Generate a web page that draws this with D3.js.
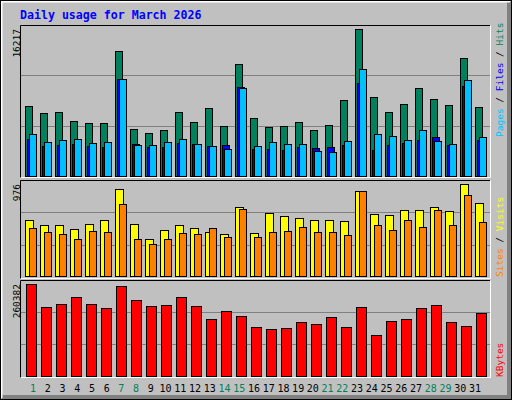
<!DOCTYPE html>
<html><head><meta charset="utf-8">
<script src="https://cdn.jsdelivr.net/npm/d3@7"></script>
<style>body{margin:0;background:#fff}svg{display:block}</style>
</head><body>
<script>
// Data
const days = d3.range(1, 32)
const weekend = [1, 7, 8, 14, 15, 21, 22, 28, 29]
const hits = [7688,6916,7026,6033,5813,5813,13755,5151,4710,5041,7026,5923,7467,5482,12320,6364,5372,5482,5923,5041,5592,8350,16217,8680,7026,7909,9673,8460,7798,12982,7578]
const files = [4048,3276,3386,3497,3276,3166,10666,3497,3166,3166,3607,3497,3276,3386,9784,2945,2945,2835,3166,3055,3166,3386,10225,2835,3386,3607,3938,4269,3386,9894,3938]
const pages = [4600,3717,3938,4048,3607,3717,10666,3386,3386,3717,4048,3497,3276,2945,9673,3276,3717,3497,3497,2724,2614,3827,11769,4600,4379,3938,5041,3827,3497,10556,4269]
const visits = [592,538,538,496,549,592,923,549,389,485,538,506,464,442,731,453,666,634,613,592,592,581,901,656,645,698,698,731,688,976,773]
const sites = [506,464,442,389,474,464,763,389,335,389,453,442,506,410,709,410,464,474,517,464,464,431,901,538,485,592,517,698,538,859,570]
const kbytes = [260382,194872,203419,223362,203419,192023,254701,214815,197721,200570,223362,197721,160684,183476,169231,137892,132194,135043,152137,146439,166382,137892,194872,115100,154986,160684,192023,200570,152137,140741,177778]

const W = 512, H = 400
const mono = "'DejaVu Sans Mono', monospace"
const svg = d3.select("body").append("svg").attr("width", W).attr("height", H)

// Frame
svg.append("rect").attr("width", W).attr("height", H).attr("fill", "#c0c0c0")
svg.append("rect").attr("x", 507).attr("y", 2).attr("width", 5).attr("height", H).attr("fill", "#808080")
svg.append("rect").attr("x", 2).attr("y", 395).attr("width", W).attr("height", 5).attr("fill", "#808080")
svg.append("path").attr("d", "M1.5,398V1.5H510").attr("fill", "none").attr("stroke", "#fff").attr("stroke-width", 2)
svg.append("rect").attr("x", 0.5).attr("y", 0.5).attr("width", W - 1).attr("height", H - 1).attr("fill", "none").attr("stroke", "#000")

// Title
svg.append("text").attr("x", 20).attr("y", 19).attr("fill", "#0000ff")
  .style("font", `bold 11.6px ${mono}`).text("Daily usage for March 2026")

const x = d3.scaleLinear().domain([0, 31]).range([20, 485])

const panels = [
  { top: 25, bottom: 178, base: 176, peak: 29, max: 16217 },
  { top: 180, bottom: 279, base: 275.7, peak: 184.3, max: 976 },
  { top: 280, bottom: 378, base: 375.7, peak: 284.3, max: 260382 }
]

panels.forEach(p => {
  const g = svg.append("g")
  const h = p.bottom - p.top
  ;[1, 2].forEach(k => {
    const gy = Math.round(p.bottom - 2 - k * (h - 2) / 3) + 0.5
    g.append("line").attr("x1", 21).attr("x2", 490).attr("y1", gy).attr("y2", gy).attr("stroke", "#808080")
  })
  g.append("path").attr("d", `M20.5,${p.bottom}V${p.top + 0.5}H490`).attr("fill", "none").attr("stroke", "#000")
  g.append("path").attr("d", `M20.5,${p.bottom - 0.5}H490.5V${p.top + 0.5}`).attr("fill", "none").attr("stroke", "#fff")
  p.y = d3.scaleLinear().domain([0, p.max]).range([p.base, p.peak])
  svg.append("text").attr("transform", `translate(17,${p.top + 4}) rotate(-90)`)
    .attr("text-anchor", "end").attr("dy", "0.35em").style("font", `9.5px ${mono}`).attr("fill", "#000").text(p.max)
})

const drawBars = (data, p, off, w, color) => {
  svg.append("g").selectAll("rect").data(data).enter().append("rect")
    .attr("x", (d, i) => x(i) + off + 0.5)
    .attr("y", d => Math.round(p.y(d)) + 0.5)
    .attr("width", w)
    .attr("height", d => Math.round(p.base) - Math.round(p.y(d)))
    .attr("fill", color).attr("stroke", "#000")
}

drawBars(hits, panels[0], 5, 7, "#00805c")
drawBars(files, panels[0], 7, 7, "#0000ff")
drawBars(pages, panels[0], 9, 7, "#00c0ff")
drawBars(visits, panels[1], 5, 8, "#ffff00")
drawBars(sites, panels[1], 9, 7, "#ff8000")
drawBars(kbytes, panels[2], 6, 10, "#ff0000")

// Right legends
const legend = (y, parts) => {
  const t = svg.append("text").attr("transform", `translate(500,${y}) rotate(-90)`)
    .attr("dy", "0.35em").style("font", `9.5px ${mono}`)
  parts.forEach(([s, c]) => t.append("tspan").attr("fill", c).text(s))
}
legend(137, [["Pages", "#00c0ff"], [" / ", "#000"], ["Files", "#0000ff"], [" / ", "#000"], ["Hits", "#00805c"]])
legend(277, [["Sites", "#ff8000"], [" / ", "#000"], ["Visits", "#ffff00"]])
legend(377, [["KBytes", "#ff0000"]])

// Day labels
svg.append("g").selectAll("text").data(days).enter().append("text")
  .attr("x", d => 33 + (d - 1) * 14.73)
  .attr("y", 392).attr("text-anchor", "middle")
  .style("font", `10px ${mono}`)
  .attr("fill", d => weekend.includes(d) ? "#00805c" : "#000")
  .text(d => d)
</script>
</body></html>
